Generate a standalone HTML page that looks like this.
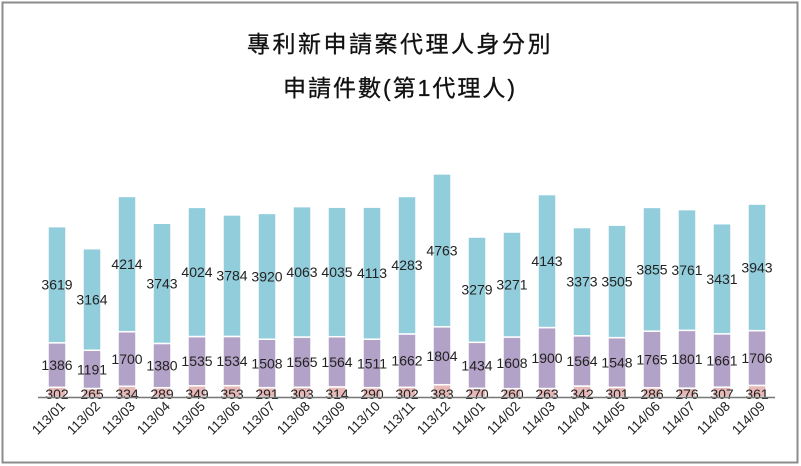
<!DOCTYPE html>
<html><head><meta charset="utf-8"><style>
html,body{margin:0;padding:0;background:#fff}
#c{position:relative;width:801px;height:466px;overflow:hidden}
svg text{font-family:"Liberation Sans","Noto Sans CJK TC",sans-serif}
</style></head><body><div id="c">
<svg id="s" width="801" height="466" xmlns="http://www.w3.org/2000/svg">
<rect x="2.5" y="2.5" width="795" height="460" fill="#fff" stroke="#8c8c8c" stroke-width="2"/>
<text x="400" y="52" text-anchor="middle" font-size="23" letter-spacing="2.5" fill="#111" stroke="#111" stroke-width="0.3">專利新申請案代理人身分別</text>
<text x="400" y="96" text-anchor="middle" font-size="23" letter-spacing="2" fill="#111" stroke="#111" stroke-width="0.3">申請件數(第1代理人)</text>
</svg></div>
<script>
const d=[["113/01",302,1386,3619],["113/02",265,1191,3164],["113/03",334,1700,4214],["113/04",289,1380,3743],["113/05",349,1535,4024],["113/06",353,1534,3784],["113/07",291,1508,3920],["113/08",303,1565,4063],["113/09",314,1564,4035],["113/10",290,1511,4113],["113/11",302,1662,4283],["113/12",383,1804,4763],["114/01",270,1434,3279],["114/02",260,1608,3271],["114/03",263,1900,4143],["114/04",342,1564,3373],["114/05",301,1548,3505],["114/06",286,1765,3855],["114/07",276,1801,3761],["114/08",307,1661,3431],["114/09",361,1706,3943]];
const s=document.getElementById('s');let h='';const base=397,k=0.0321,w=18,cols=['#e6b9b8','#b3a2c7','#92cddc'];
d.forEach((r,i)=>{const cx=57+i*35;let y=base;
for(let j=0;j<3;j++){const hh=r[j+1]*k;y-=hh;
h+=`<rect x="${cx-w/2}" y="${y}" width="${w}" height="${hh}" fill="${cols[j]}" stroke="#fff" stroke-width="1.5"/>`;
const ty=j==0?base+2:y+hh/2+5;
h+=`<text x="${cx}" y="${ty}" text-anchor="middle" font-size="14" fill="#222">${r[j+1]}</text>`;}
h+=`<text transform="translate(${cx+9},${base+10}) rotate(-45)" text-anchor="end" font-size="13.5" fill="#222">${r[0]}</text>`;});
h+=`<line x1="38" y1="${base+0.5}" x2="775" y2="${base+0.5}" stroke="#777" stroke-width="1.5"/>`;
s.insertAdjacentHTML('beforeend',h);
</script></body></html>
